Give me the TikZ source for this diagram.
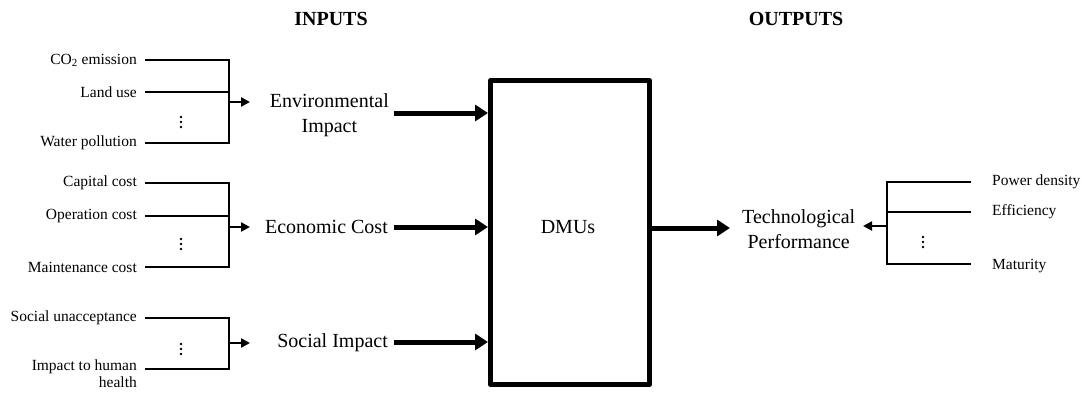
\documentclass[tikz,border=0pt]{standalone}
\usepackage{fontspec}
\setmainfont{Liberation Serif}
\usetikzlibrary{arrows.meta}
\begin{document}
\begin{tikzpicture}[x=1pt,y=-1pt,
  lab/.style={font=\fontsize{15.5}{17}\selectfont, inner sep=0pt},
  labr/.style={lab, anchor=east},
  labl/.style={lab, anchor=west},
  mid/.style={font=\fontsize{20}{25}\selectfont, align=center, inner sep=0pt},
  ttl/.style={font=\fontsize{20}{22}\selectfont\bfseries, inner sep=0pt},
  dotfill/.style={fill=black},
  thinline/.style={line width=2.5pt, line join=miter},
  smallarrow/.style={line width=2.5pt, -{Triangle[length=9pt,width=9pt]}},
  bigarrow/.style={line width=5pt, -{Triangle[length=13pt,width=16pt]}},
  boxstyle/.style={draw, line width=5pt, line join=round, minimum width=159pt, minimum height=304pt, inner sep=0pt}]
\useasboundingbox (0,0) rectangle (1086,396);

% titles
\node[ttl] (inputs) at (331,19) {INPUTS};
\node[ttl] (outputs) at (796,19) {OUTPUTS};

% DMU box
\node[boxstyle] (box) at (570,232.5) {};
\node[mid] (dmus) at (568,227) {DMUs};

% middle labels
\node[mid, anchor=east] (env) at (389,115) {Environmental\\Impact};
\node[mid, anchor=east] (eco) at (388,227) {Economic Cost};
\node[mid, anchor=east] (soc) at (388,343) {Social Impact};
\node[mid, anchor=west] (tech) at (742,229) {Technological\\Performance};

% big arrows
\coordinate (envs) at (394,113);
\coordinate (ecos) at (394,227);
\coordinate (socs) at (394,342);
\draw[bigarrow] (envs) -- (box.west |- envs);
\draw[bigarrow] (ecos) -- (box.west |- ecos);
\draw[bigarrow] (socs) -- (box.west |- socs);
\coordinate (techt) at (730,228);
\draw[bigarrow] (box.east |- techt) -- (techt);

% group 1: environmental
\coordinate (s1a) at (145,60);  \coordinate (b1a) at (229,60);
\coordinate (s1b) at (145,92);  \coordinate (b1b) at (229,92);
\coordinate (s1c) at (145,143); \coordinate (b1c) at (229,143);
\coordinate (b1m) at (229,102); \coordinate (t1) at (250,102);
\node[labr] (l1a) at ([xshift=-8pt]s1a) {CO\textsubscript{2} emission};
\node[labr] (l1b) at ([xshift=-8pt]s1b) {Land use};
\node[labr] (l1c) at ([xshift=-8pt]s1c) {Water pollution};
\foreach \dy in {-5,0,5} \fill[dotfill] (181,122+\dy) circle (1.4pt);
\draw[thinline] (s1a) -- (b1a) -- (b1c) -- (s1c);
\draw[thinline] (s1b) -- (b1b);
\draw[smallarrow] (b1m) -- (t1);

% group 2: economic
\coordinate (s2a) at (145,183); \coordinate (b2a) at (229,183);
\coordinate (s2b) at (145,216); \coordinate (b2b) at (229,216);
\coordinate (s2c) at (145,267); \coordinate (b2c) at (229,267);
\coordinate (b2m) at (229,227); \coordinate (t2) at (250,227);
\node[labr] (l2a) at ([xshift=-8pt]s2a) {Capital cost};
\node[labr] (l2b) at ([xshift=-8pt]s2b) {Operation cost};
\node[labr] (l2c) at ([xshift=-8pt]s2c) {Maintenance cost};
\foreach \dy in {-5,0,5} \fill[dotfill] (181,244+\dy) circle (1.4pt);
\draw[thinline] (s2a) -- (b2a) -- (b2c) -- (s2c);
\draw[thinline] (s2b) -- (b2b);
\draw[smallarrow] (b2m) -- (t2);

% group 3: social
\coordinate (s3a) at (145,318); \coordinate (b3a) at (229,318);
\coordinate (s3c) at (145,369); \coordinate (b3c) at (229,369);
\coordinate (b3m) at (229,343); \coordinate (t3) at (250,343);
\node[labr] (l3a) at ([xshift=-8pt]s3a) {Social unacceptance};
\node[lab, anchor=north east, align=right] (l3c) at (137,360) {Impact to human\\health};
\foreach \dy in {-5,0,5} \fill[dotfill] (181,349+\dy) circle (1.4pt);
\draw[thinline] (s3a) -- (b3a) -- (b3c) -- (s3c);
\draw[smallarrow] (b3m) -- (t3);

% output group
\coordinate (s4a) at (971,182); \coordinate (b4a) at (887,182);
\coordinate (s4b) at (971,212); \coordinate (b4b) at (887,212);
\coordinate (s4c) at (971,264); \coordinate (b4c) at (887,264);
\coordinate (b4m) at (887,226); \coordinate (t4) at (863,226);
\node[labl] (l4a) at (992,182) {Power density};
\node[labl] (l4b) at (992,212) {Efficiency};
\node[labl] (l4c) at (992,266) {Maturity};
\foreach \dy in {-5,0,5} \fill[dotfill] (923,242+\dy) circle (1.4pt);
\draw[thinline] (s4a) -- (b4a) -- (b4c) -- (s4c);
\draw[thinline] (s4b) -- (b4b);
\draw[smallarrow] (b4m) -- (t4);
\end{tikzpicture}
\end{document}
